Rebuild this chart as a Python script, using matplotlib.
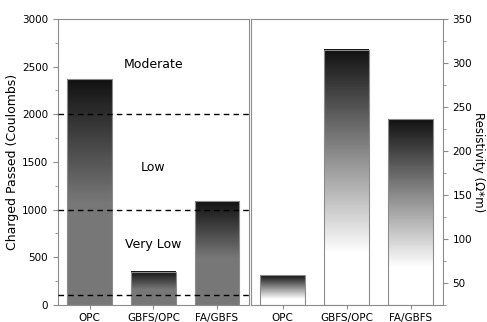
import numpy as np
import matplotlib
matplotlib.use("Agg")
import matplotlib.pyplot as plt
from matplotlib.ticker import MultipleLocator
from matplotlib.colors import LinearSegmentedColormap

# data
mixes = ["OPC", "GBFS/OPC", "FA/GBFS"]
charge_passed = [2370, 350, 1090]       # Coulombs
resistivity = [59, 315, 236]            # Ohm*m
class_limits = [2000, 1000, 100]
class_names = ["Moderate", "Low", "Very Low"]
class_text_y = [2520, 1440, 630]

grey = "#8c8c8c"
bar_w = 0.7


def gradient_bars(ax, values, base, top_grey, ramp, cmap_name):
    cmap = LinearSegmentedColormap.from_list(cmap_name, [(0.07, 0.07, 0.07), (top_grey, top_grey, top_grey)])
    for i, v in enumerate(values):
        n = 200
        t = np.linspace(0, 1, n)               # 0 = bottom, 1 = top
        g = np.clip((1 - t) / ramp, 0, 1)       # 0 dark at top
        img = g[:, None]
        im = ax.imshow(img, cmap=cmap, vmin=0, vmax=1, origin="lower", aspect="auto",
                       extent=(i - bar_w / 2, i + bar_w / 2, base, v), zorder=1,
                       interpolation="nearest")
    bars = ax.bar(range(len(values)), [v - base for v in values], bottom=base, width=bar_w,
                  facecolor="none", edgecolor=grey, linewidth=0.8, zorder=2)
    return bars


def style_axis(ax):
    for s in ax.spines.values():
        s.set_color(grey)
        s.set_linewidth(0.8)
    ax.tick_params(which="both", color=grey, direction="out", labelsize=7.5)
    ax.tick_params(which="major", length=3.5)
    ax.tick_params(which="minor", length=2)
    ax.set_xlim(-0.5, 2.5)
    ax.set_xticks(range(len(mixes)))
    ax.set_xticklabels(mixes, fontsize=7.5)
    ax.tick_params(axis="x", length=3, pad=2.5)


fig = plt.figure(figsize=(4.87, 3.22), dpi=100)
ax1 = fig.add_axes([0.119, 0.053, 0.392, 0.888])
ax2 = fig.add_axes([0.515, 0.053, 0.394, 0.888])

# left panel: charge passed
gradient_bars(ax1, charge_passed, 0, 0.47, 0.55, "left_grad")
ax1.set_ylim(0, 3000)
for y in class_limits:
    ax1.axhline(y, color="black", linestyle=(0, (4, 3)), linewidth=1.0, zorder=3)
for name, y in zip(class_names, class_text_y):
    ax1.text(1, y, name, ha="center", va="center", fontsize=9)
ax1.yaxis.set_major_locator(MultipleLocator(500))
ax1.yaxis.set_minor_locator(MultipleLocator(250))
ax1.set_ylabel("Charged Passed (Coulombs)", fontsize=9, labelpad=2)
style_axis(ax1)

# right panel: resistivity
gradient_bars(ax2, resistivity, 25, 1.0, 0.8, "right_grad")
ax2.set_ylim(25, 350)
ax2.yaxis.tick_right()
ax2.yaxis.set_label_position("right")
ax2.yaxis.set_major_locator(MultipleLocator(50))
ax2.yaxis.set_minor_locator(MultipleLocator(25))
ax2.set_ylabel("Resistivity (\u03a9*m)", fontsize=8.5, rotation=270, labelpad=9)
style_axis(ax2)

fig.savefig("out.png", dpi=100)
